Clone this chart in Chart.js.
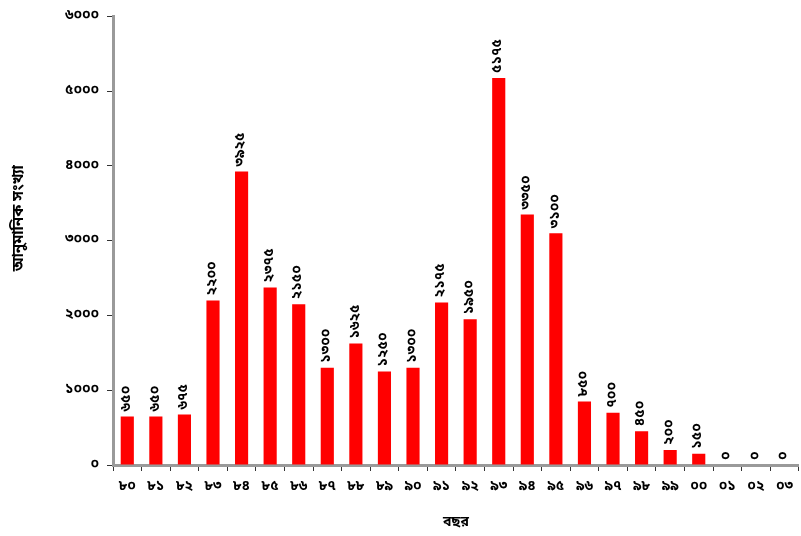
<!DOCTYPE html>
<html>
<head>
<meta charset="utf-8">
<script src="https://cdn.jsdelivr.net/npm/chart.js@4"></script>
<style>
  html, body { margin: 0; padding: 0; background: #fff; }
  #wrap { width: 801px; height: 536px; }
</style>
</head>
<body>
<div id="wrap"><canvas id="c" width="801" height="536"></canvas></div>
<script>
// Years (last two digits, Bengali numerals)
const years = ['৮০','৮১','৮২','৮৩','৮৪','৮৫','৮৬','৮৭','৮৮','৮৯','৯০','৯১','৯২','৯৩','৯৪','৯৫','৯৬','৯৭','৯৮','৯৯','০০','০১','০২','০৩'];
// Estimated count per year
const counts = [650, 650, 675, 2200, 3925, 2375, 2150, 1300, 1625, 1250, 1300, 2175, 1950, 5175, 3350, 3100, 850, 700, 450, 200, 150, 0, 0, 0];
const yTicks = [0, 1000, 2000, 3000, 4000, 5000, 6000];
const yTitle = 'আনুমানিক সংখ্যা';
const xTitle = 'বছর';

const BN = ['০','১','২','৩','৪','৫','৬','৭','৮','৯'];
const toBn = n => String(n).replace(/[0-9]/g, d => BN[+d]);

const FONT = "'Noto Sans Bengali', 'Lohit Bengali', 'FreeSans', 'Noto Sans', sans-serif";
const AXIS = '#9a9a9a';

// Writes each bar's value, rotated, just above the bar
const valueLabels = {
  id: 'valueLabels',
  afterDatasetsDraw(chart) {
    const ctx = chart.ctx;
    const meta = chart.getDatasetMeta(0);
    ctx.save();
    ctx.fillStyle = '#000';
    ctx.font = 'bold 14px ' + FONT;
    ctx.textAlign = 'left';
    ctx.textBaseline = 'middle';
    meta.data.forEach((bar, i) => {
      ctx.save();
      ctx.translate(bar.x, bar.y - 5);
      ctx.rotate(-Math.PI / 2);
      ctx.fillText(toBn(counts[i]), 0, 0);
      ctx.restore();
    });
    ctx.restore();
  }
};

// Vertical axis title, placed a little above the middle of the axis
const yAxisTitle = {
  id: 'yAxisTitle',
  afterDraw(chart) {
    const ctx = chart.ctx;
    const y = chart.scales.y;
    ctx.save();
    ctx.fillStyle = '#000';
    ctx.font = 'bold 15px ' + FONT;
    ctx.textAlign = 'center';
    ctx.textBaseline = 'middle';
    ctx.translate(20, y.getPixelForValue(3300));
    ctx.rotate(-Math.PI / 2);
    ctx.fillText(yTitle, 0, 0);
    ctx.restore();
  }
};

new Chart(document.getElementById('c'), {
  type: 'bar',
  data: {
    labels: years,
    datasets: [{
      data: counts,
      backgroundColor: '#ff0000',
      borderWidth: 0,
      barPercentage: 0.46,
      categoryPercentage: 1.0
    }]
  },
  options: {
    responsive: false,
    animation: false,
    devicePixelRatio: 1,
    layout: { padding: { top: 12, right: 1, left: 0, bottom: 0 } },
    plugins: { legend: { display: false }, tooltip: { enabled: false } },
    scales: {
      x: {
        grid: { display: true, drawOnChartArea: false, drawTicks: true, tickLength: 6, color: '#333', offset: true },
        border: { display: true, color: AXIS, width: 3 },
        ticks: { color: '#000', font: { family: FONT, size: 14, weight: 'bold' }, padding: 8, maxRotation: 0, autoSkip: false },
        title: { display: true, text: xTitle, color: '#000', font: { family: FONT, size: 14, weight: 'bold' }, padding: { top: 14 } },
        afterFit(s) { s.height = 71; }
      },
      y: {
        min: 0, max: 6000,
        afterBuildTicks(s) { s.ticks = yTicks.map(v => ({ value: v })); },
        grid: { display: true, drawOnChartArea: false, drawTicks: true, tickLength: 6, color: '#333' },
        border: { display: true, color: AXIS, width: 3 },
        ticks: { color: '#000', font: { family: FONT, size: 14, weight: 'bold' }, padding: 8, callback: v => toBn(v) },
        afterFit(s) { s.width = 113; }
      }
    }
  },
  plugins: [valueLabels, yAxisTitle]
});
</script>
</body>
</html>
